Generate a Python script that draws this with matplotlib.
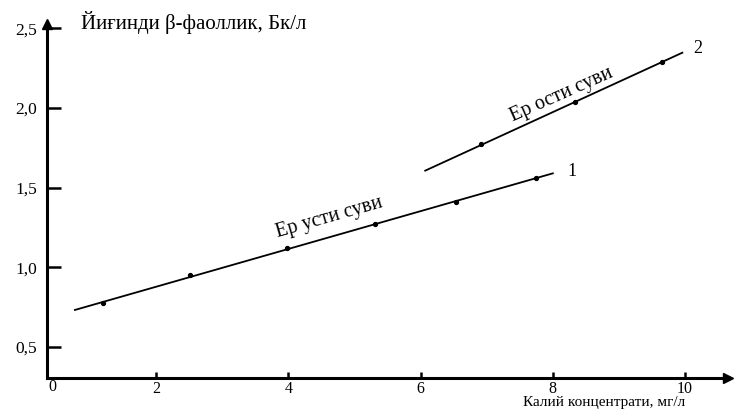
import matplotlib
matplotlib.use("Agg")
import matplotlib.pyplot as plt
import numpy as np

# Data
x_ticks = [2, 4, 6, 8, 10]
x_tick_labels = ["2", "4", "6", "8", "10"]
y_ticks = [0.5, 1.0, 1.5, 2.0, 2.5]
y_tick_labels = ["0,5", "1,0", "1,5", "2,0", "2,5"]

# Series 1 (Ер усти суви)
s1_x = [1.20, 2.51, 3.98, 5.31, 6.53, 7.74]
s1_y = [0.775, 0.952, 1.124, 1.270, 1.408, 1.559]
s1_line_x = [0.77, 8.0]
s1_line_y = [0.733, 1.590]

# Series 2 (Ер ости суви)
s2_x = [6.91, 8.33, 9.65]
s2_y = [1.772, 2.038, 2.290]
s2_line_x = [6.07, 9.96]
s2_line_y = [1.607, 2.347]

serif = ["Liberation Serif", "DejaVu Serif"]
plt.rcParams['font.family'] = serif

W, H = 737, 409
fig = plt.figure(figsize=(W / 100, H / 100), dpi=100)
left_px, right_px, top_px, bottom_px = 47, 728, 24, 378
ax = fig.add_axes([left_px / W, (H - bottom_px) / H,
                   (right_px - left_px) / W, (bottom_px - top_px) / H])

# pixel->data mapping derived from reference ticks
ax.set_xlim((left_px - 24.0) / 66.1, (right_px - 24.0) / 66.1)
ax.set_ylim(2.5 - (bottom_px - 28.3) / 159.4, 2.5 + (28.3 - top_px) / 159.4)

for s in ["top", "right"]:
    ax.spines[s].set_visible(False)
for s in ["left", "bottom"]:
    ax.spines[s].set_linewidth(2.2)

ax.set_xticks(x_ticks)
ax.set_xticklabels(x_tick_labels)
ax.set_yticks(y_ticks)
ax.set_yticklabels(y_tick_labels)
ax.tick_params(axis='x', direction='in', length=4.5, width=1.8, labelsize=11.5, pad=2)
ax.tick_params(axis='y', direction='in', length=10, width=1.8, labelsize=12.5, pad=7)

# arrows
ax.plot(0, 1, marker='^', color='black', markersize=7, transform=ax.transAxes, clip_on=False)
ax.plot(1, 0, marker='>', color='black', markersize=7, transform=ax.transAxes, clip_on=False)

# lines and points
ax.plot(s1_line_x, s1_line_y, color='black', linewidth=1.3)
ax.plot(s1_x, s1_y, 'o', color='black', markersize=2.8)
ax.plot(s2_line_x, s2_line_y, color='black', linewidth=1.3)
ax.plot(s2_x, s2_y, 'o', color='black', markersize=2.8)

ax.text(8.22, 1.60, "1", fontsize=13, ha='left', va='center')
ax.text(10.12, 2.375, "2", fontsize=13, ha='left', va='center')

ax.text(4.62, 1.31, "Ер усти суви", fontsize=14.5, rotation=16,
        ha='center', va='center', rotation_mode='anchor')
ax.text(8.13, 2.08, "Ер ости суви", fontsize=14.5, rotation=24,
        ha='center', va='center', rotation_mode='anchor')

# "0" label at origin corner
ax.text(52 / W, (H - 387) / H, "0", fontsize=11.5, ha='center', va='center',
        transform=fig.transFigure)

# axis titles
fig.text(81 / W, (H - 22) / H, "Йиғинди β-фаоллик, Бк/л", fontsize=15,
         ha='left', va='center')
fig.text(523 / W, (H - 406) / H, "Калий концентрати, мг/л", fontsize=11,
         ha='left', va='baseline')

fig.savefig("out.png", dpi=100)
